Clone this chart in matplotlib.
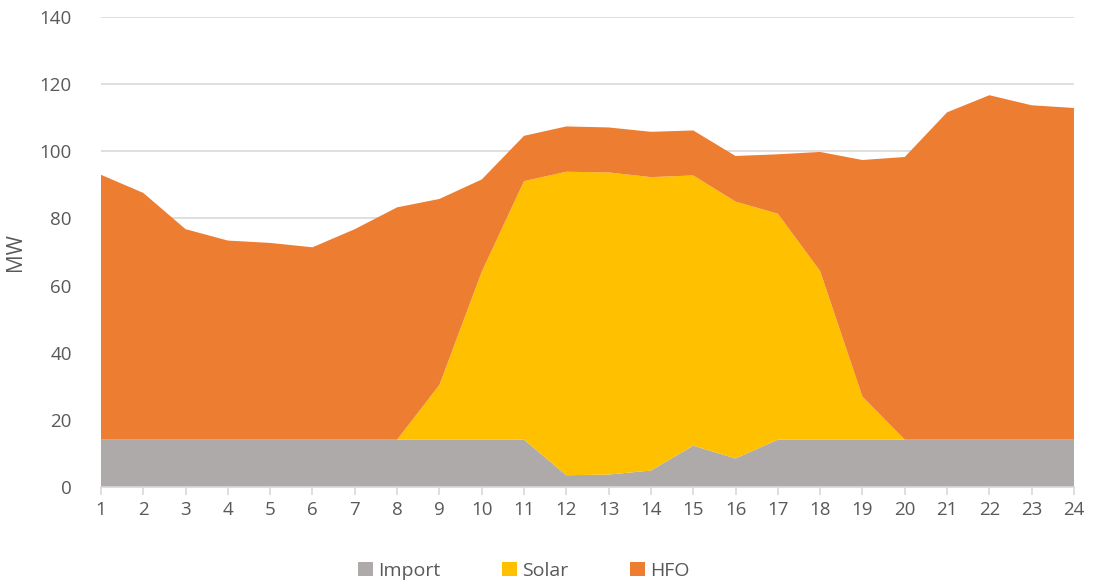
import matplotlib
matplotlib.use("Agg")
import matplotlib.pyplot as plt
from matplotlib.patches import Patch

hours = list(range(1, 25))
import_mw = [14.1, 14.1, 14.1, 14.1, 14.1, 14.1, 14.1, 14.1, 14.1, 14.1, 14.1, 3.5,
             3.7, 4.9, 12.3, 8.5, 14.1, 14.1, 14.1, 14.1, 14.1, 14.1, 14.1, 14.1]
solar_mw = [0, 0, 0, 0, 0, 0, 0, 0, 16.3, 50.0, 77.0, 90.4,
            90.0, 87.4, 80.5, 76.5, 67.3, 50.2, 12.8, 0, 0, 0, 0, 0]
hfo_mw = [78.9, 73.5, 62.7, 59.3, 58.6, 57.3, 62.7, 69.2, 55.4, 27.5, 13.5, 13.5,
          13.4, 13.5, 13.4, 13.6, 17.7, 35.5, 70.5, 84.2, 97.5, 102.6, 99.6, 98.8]
series_names = ["Import", "Solar", "HFO"]
colors = ["#AEAAAA", "#FFC000", "#ED7D31"]

plt.rcParams["font.family"] = ["Open Sans", "DejaVu Sans"]
text_color = "#595959"
grid_color = "#D9D9D9"

fig = plt.figure(figsize=(10.94, 5.88), dpi=100)
ax = fig.add_axes([0.0923, 0.1718, 0.8894, 0.7993])

ax.stackplot(hours, import_mw, solar_mw, hfo_mw, colors=colors,
             linewidth=0, zorder=2)

ax.set_xlim(1, 24)
ax.set_ylim(0, 140)
ax.set_yticks(range(0, 141, 20))
ax.set_xticks(hours)
ax.yaxis.grid(True, color=grid_color, linewidth=1.2, zorder=0)
ax.set_axisbelow(True)

for side in ["top", "right", "left"]:
    ax.spines[side].set_visible(False)
ax.spines["bottom"].set_color(grid_color)
ax.spines["bottom"].set_linewidth(1.2)
ax.spines["bottom"].set_zorder(3)

ax.tick_params(axis="y", length=0, labelsize=13.5, labelcolor=text_color, pad=21)
ax.tick_params(axis="x", length=6, width=1.2, color=grid_color,
               labelsize=13.5, labelcolor=text_color, pad=4)

ax.set_ylabel("MW", fontsize=15, color=text_color, labelpad=10)

handles = [Patch(facecolor=c, edgecolor="none") for c in colors]
fig.legend(handles, series_names, loc="center", bbox_to_anchor=(0.479, 0.029),
           ncol=3, frameon=False, fontsize=14, labelcolor=text_color,
           handlelength=0.75, handleheight=0.75, handletextpad=0.3,
           columnspacing=3.15)

fig.savefig("out.png", dpi=100)
